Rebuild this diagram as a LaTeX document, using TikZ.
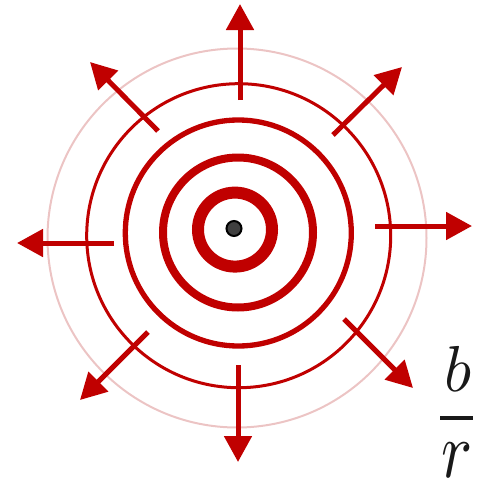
\documentclass[tikz,border=0pt]{standalone}
\usepackage{graphicx}
\usetikzlibrary{arrows.meta}
\definecolor{wred}{RGB}{192,0,0}
\definecolor{wpink}{RGB}{236,196,196}
\definecolor{dotgray}{RGB}{64,64,64}
\definecolor{ink}{RGB}{25,25,25}
\begin{document}
\begin{tikzpicture}[x=1pt,y=-1pt,
  ring/.style={draw=wred},
  radarrow/.style={draw=wred,line width=5pt,-{Triangle[length=26pt,width=27pt]}},
  glyph/.style={inner sep=0pt,anchor=south,text=ink}]
\useasboundingbox (0,0) rectangle (485,482);
% rings
\draw[draw=wpink,line width=2pt] (237,238) circle[radius=189.5];
\draw[ring,line width=3pt] (238.7,235.7) circle[radius=152];
\draw[ring,line width=5.3pt] (238.3,233) circle[radius=113];
\draw[ring,line width=8pt] (238,232.5) circle[radius=75];
\draw[ring,line width=12pt] (235,229.6) circle[radius=37];
% charge
\node[circle,fill=dotgray,draw=black,line width=2pt,inner sep=0pt,minimum size=15pt] (q) at (234,228.5) {};
% arrows
\coordinate (s1) at (240,100); \coordinate (t1) at (240,4);
\coordinate (s2) at (333,135); \coordinate (t2) at (402,67);
\coordinate (s3) at (375,226); \coordinate (t3) at (472,226);
\coordinate (s4) at (344,319); \coordinate (t4) at (413,388);
\coordinate (s5) at (238,365); \coordinate (t5) at (238,462);
\coordinate (s6) at (148,332); \coordinate (t6) at (80,400);
\coordinate (s7) at (114,243); \coordinate (t7) at (17,243);
\coordinate (s8) at (158,131); \coordinate (t8) at (90,62);
\foreach \i in {1,...,8} {\draw[radarrow] (s\i) -- (t\i);}
% label b / r
\node[glyph] (num) at (458.5,392) {\scalebox{6.3}[6.5]{$b$}};
\node[glyph] (den) at (457.5,478) {\scalebox{6.5}[8.0]{$r$}};
\coordinate (barL) at (440,417.5); \coordinate (barR) at (473,417.5);
\draw[draw=ink,line width=4pt] (barL) -- (barR);
\end{tikzpicture}
\end{document}
